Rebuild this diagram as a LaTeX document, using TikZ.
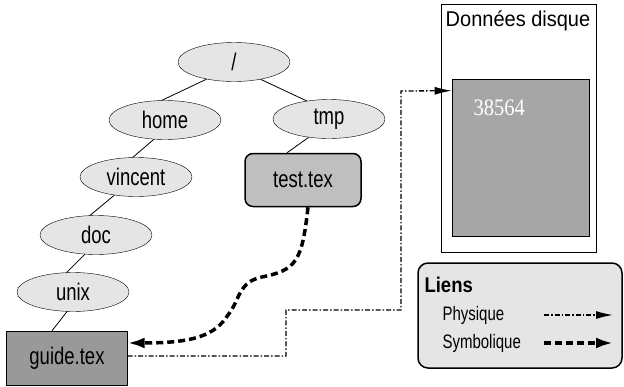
\documentclass[tikz,border=0pt]{standalone}
\usepackage{fontspec}
\setmainfont{Liberation Sans}
\newfontfamily\numfont{Liberation Serif}
\usetikzlibrary{shapes.geometric,arrows.meta}
\newcommand\tallt[2][1.3]{\scalebox{1}[#1]{#2}}

\begin{document}
\begin{tikzpicture}[x=1pt, y=-1pt,
   dir/.style={draw, ellipse, fill=gray!20, minimum width=112pt, minimum height=39pt,
               inner sep=0pt, font=\fontsize{18.5}{20}\selectfont},
   symfile/.style={draw, line width=1.5pt, rounded corners=8pt, fill=gray!50,
               minimum width=116pt, minimum height=53pt, font=\fontsize{18.5}{20}\selectfont},
   realfile/.style={draw, fill=gray!80, minimum width=121pt, minimum height=54pt,
               font=\fontsize{18.5}{20}\selectfont},
   tree/.style={line width=0.8pt},
   physlink/.style={line width=1.3pt, dash pattern=on 5pt off 2pt on 1.5pt off 2pt,
               -{Latex[length=17pt, width=8pt]}},
   symlink/.style={line width=3.5pt, dash pattern=on 7pt off 4pt,
               -{Latex[length=17pt, width=11pt]}},
   legend/.style={font=\fontsize{15}{17}\selectfont, anchor=west}]

\useasboundingbox (0,0) rectangle (624,386);

% arborescence
\node[dir] (root) at (234,62) {\tallt{/}};
\node[dir] (home) at (165,120) {\tallt{home}};
\node[dir] (tmp) at (329,119) {\tallt{tmp}};
\node[dir] (vincent) at (136,177) {\tallt{vincent}};
\node[dir] (doc) at (96,235) {\tallt{doc}};
\node[dir] (unix) at (73,292) {\tallt{unix}};
\node[symfile] (test) at (303,180) {\tallt{test.tex}};
\node[realfile] (guide) at (67,358) {\tallt{guide.tex}};

\draw[tree] (root.212) -- (home.99);
\draw[tree] (root.327) -- (tmp.141);
\draw[tree] (home.240) -- (vincent.99);
\draw[tree] (tmp.222) -- ([xshift=-16pt]test.north);
\draw[tree] (vincent.220) -- (doc.107);
\draw[tree] (doc.240) -- (unix.108);
\draw[tree] (unix.253) -- ([xshift=-15pt]guide.north);

% disque
\draw[line width=0.6pt] (441,4) rectangle (596,252);
\node[font=\fontsize{20}{22}\selectfont] (title) at (518,21) {\tallt[1.07]{Données disque}};
\node[draw, line width=0.6pt, fill=gray!70, minimum width=137pt, minimum height=157pt,
      inner sep=0pt] (block) at (520.5,157.5) {};
\node[anchor=west, text=white, font=\numfont\fontsize{20.5}{22}\selectfont] (inode) at (470,108) {\tallt[1.15]{38564}};

% liens
\draw[physlink] ([yshift=2pt]guide.east) -| (286,310) -| (401,91) -- ([yshift=-12pt]block.north west);
\draw[symlink] ([xshift=5pt]test.south) .. controls (302,262) and (296,270) .. (262,277)
   .. controls (238,282) and (240,300) .. (228,315)
   .. controls (215,335) and (195,343) .. ([yshift=15pt]guide.east);

% legende
\draw[line width=1.5pt, rounded corners=10pt, fill=gray!20] (418,263) rectangle (622,368);
\node[anchor=west, font=\bfseries\fontsize{18.5}{20}\selectfont] (liens) at (421,285) {\tallt[1.15]{Liens}};
\node[legend] (phys) at (439,315) {\tallt{Physique}};
\node[legend] (sym) at (439,343) {\tallt{Symbolique}};
\coordinate (pa) at (544,315);
\coordinate (pb) at (613,315);
\coordinate (sa) at (544,343);
\coordinate (sb) at (613,343);
\draw[physlink] (pa) -- (pb);
\draw[symlink] (sa) -- (sb);

\end{tikzpicture}
\end{document}
